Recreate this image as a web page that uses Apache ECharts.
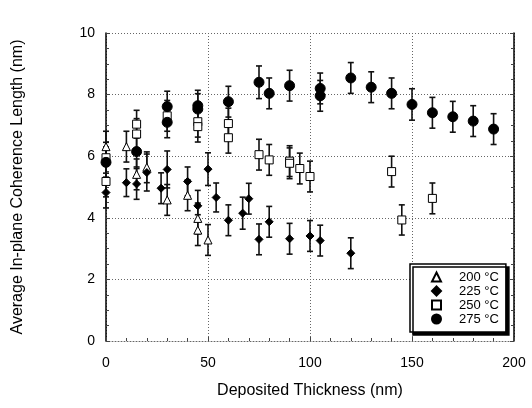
<!DOCTYPE html>
<html>
<head>
<meta charset="utf-8">
<script src="https://cdn.jsdelivr.net/npm/echarts@6/dist/echarts.min.js"></script>
<style>
  html, body { margin: 0; padding: 0; background: #fff; }
  #chart { width: 532px; height: 408px; }
</style>
</head>
<body>
<div id="chart"></div>
<script>
// values (thickness in nm, coherence length in nm, +/- error)
const t200X = [0, 10, 15, 20, 30, 40, 45, 45, 50]
const t200Y = [6.31, 6.31, 5.41, 5.64, 4.58, 4.73, 3.98, 3.6, 3.28]
const t200E = [0.5, 0.5, 0.5, 0.5, 0.5, 0.5, 0.5, 0.5, 0.5]

const t225X = [0, 10, 15, 20, 27, 30, 40, 45, 50, 54, 60, 67, 70, 75, 80, 90, 100, 105, 120]
const t225Y = [4.82, 5.14, 5.10, 5.47, 4.96, 5.57, 5.18, 4.39, 5.58, 4.66, 3.92, 4.15, 4.62, 3.30, 3.87, 3.32, 3.41, 3.26, 2.85]
const t225E = [0.5, 0.45, 0.5, 0.6, 0.5, 0.6, 0.47, 0.5, 0.53, 0.47, 0.5, 0.52, 0.5, 0.5, 0.5, 0.5, 0.5, 0.5, 0.5]

const t250X = [0, 0, 15, 15, 30, 45, 45, 60, 60, 75, 80, 90, 90, 95, 100, 140, 145, 160]
const t250Y = [5.95, 5.18, 7.04, 6.72, 7.31, 7.12, 6.96, 7.06, 6.6, 6.05, 5.88, 5.84, 5.77, 5.6, 5.34, 5.5, 3.93, 4.63]
const t250E = [0.5, 0.5, 0.45, 0.5, 0.5, 0.5, 0.5, 0.5, 0.5, 0.5, 0.5, 0.5, 0.5, 0.5, 0.5, 0.5, 0.49, 0.5]

const t275X = [0, 15, 30, 30, 45, 45, 60, 75, 80, 90, 105, 105, 120, 130, 140, 150, 160, 170, 180, 190]
const t275Y = [5.8, 6.15, 7.61, 7.10, 7.64, 7.53, 7.77, 8.40, 8.04, 8.29, 8.2, 7.96, 8.54, 8.24, 8.04, 7.68, 7.41, 7.28, 7.14, 6.88]
const t275E = [0.5, 0.5, 0.5, 0.5, 0.5, 0.5, 0.5, 0.53, 0.5, 0.5, 0.5, 0.5, 0.5, 0.5, 0.5, 0.51, 0.5, 0.5, 0.5, 0.5]

const names = ['200 °C', '225 °C', '250 °C', '275 °C']
const FONT = "'Liberation Sans', Arial, sans-serif"

function pack(xs, ys, es) {
    return xs.map((x, i) => [x, ys[i], es[i]])
}

const sets = [
    { name: names[0], data: pack(t200X, t200Y, t200E), symbol: 'triangle', size: 8, fill: '#fff' },
    { name: names[1], data: pack(t225X, t225Y, t225E), symbol: 'diamond', size: 8, fill: '#000' },
    { name: names[2], data: pack(t250X, t250Y, t250E), symbol: 'rect', size: 8, fill: '#fff' },
    { name: names[3], data: pack(t275X, t275Y, t275E), symbol: 'circle', size: 10, fill: '#000' },
]

function errBar(params, api) {
    const x = api.value(0), y = api.value(1), e = api.value(2)
    const top = api.coord([x, y + e])
    const bot = api.coord([x, y - e])
    const w = 3
    const st = { stroke: '#111', lineWidth: 1.6 }
    return {
        type: 'group',
        children: [
            { type: 'line', shape: { x1: top[0], y1: top[1], x2: bot[0], y2: bot[1] }, style: st },
            { type: 'line', shape: { x1: top[0] - w, y1: top[1], x2: top[0] + w, y2: top[1] }, style: st },
            { type: 'line', shape: { x1: bot[0] - w, y1: bot[1], x2: bot[0] + w, y2: bot[1] }, style: st },
        ]
    }
}

let series = []
sets.forEach(s => {
    series.push({
        type: 'custom',
        renderItem: errBar,
        encode: { x: 0, y: 1 },
        data: s.data,
        z: 1,
        silent: true
    })
})
sets.forEach(s => {
    series.push({
        name: s.name,
        type: 'scatter',
        symbol: s.symbol,
        symbolSize: s.size,
        symbolKeepAspect: true,
        data: s.data.map(d => [d[0], d[1]]),
        itemStyle: { color: s.fill, borderColor: '#000', borderWidth: 1, opacity: 1 },
        z: 3
    })
})

const dotted = { color: '#666', type: [1, 2], width: 1 }

let chart = echarts.init(document.getElementById('chart'))
chart.setOption({
    animation: false,
    backgroundColor: '#fff',
    textStyle: { fontFamily: FONT },
    grid: { left: 106, right: 18, top: 33, bottom: 67 },
    xAxis: {
        type: 'value',
        min: 0, max: 200, interval: 50,
        name: 'Deposited Thickness (nm)',
        nameLocation: 'middle',
        nameGap: 42,
        nameTextStyle: { fontSize: 16, color: '#000', fontFamily: FONT },
        axisLine: { show: true, lineStyle: dotted },
        axisTick: { show: true, inside: true, length: 4, lineStyle: { color: '#444' } },
        minorTick: { show: true, splitNumber: 5, length: 3, lineStyle: { color: '#444' } },
        axisLabel: { fontSize: 14, color: '#000', margin: 15, fontFamily: FONT },
        splitLine: { show: true, lineStyle: dotted }
    },
    yAxis: [{
        type: 'value',
        min: 0, max: 10, interval: 2,
        name: 'Average In-plane Coherence Length (nm)',
        nameLocation: 'middle',
        nameGap: 80,
        nameTextStyle: { fontSize: 16, color: '#000', fontFamily: FONT },
        axisLine: { show: true, lineStyle: { color: '#000', width: 1.5 } },
        axisTick: { show: true, inside: true, length: 4, lineStyle: { color: '#444' } },
        minorTick: { show: true, splitNumber: 4, length: 3, lineStyle: { color: '#444' } },
        axisLabel: { fontSize: 14, color: '#000', margin: 11, fontFamily: FONT },
        splitLine: { show: true, lineStyle: dotted }
    }, {
        type: 'value',
        position: 'right',
        min: 0, max: 10, interval: 2,
        axisLine: { show: true, lineStyle: { color: '#000', width: 1.5 } },
        axisTick: { show: true, inside: true, length: 4, lineStyle: { color: '#444' } },
        minorTick: { show: true, splitNumber: 4, length: 3, lineStyle: { color: '#444' } },
        axisLabel: { show: false },
        splitLine: { show: false }
    }],
    legend: {
        data: names,
        orient: 'vertical',
        left: 410,
        top: 264,
        padding: [6, 7, 6, 21],
        itemWidth: 9,
        itemHeight: 9,
        itemGap: 0,
        backgroundColor: '#fff',
        borderColor: '#000',
        borderWidth: 1.5,
        borderRadius: 0,
        shadowColor: '#000',
        shadowBlur: 0,
        shadowOffsetX: 3,
        shadowOffsetY: 3,
        textStyle: { fontSize: 13, color: '#000', lineHeight: 14, padding: [0, 0, 0, 13], fontFamily: FONT }
    },
    series: series
})
</script>
</body>
</html>
